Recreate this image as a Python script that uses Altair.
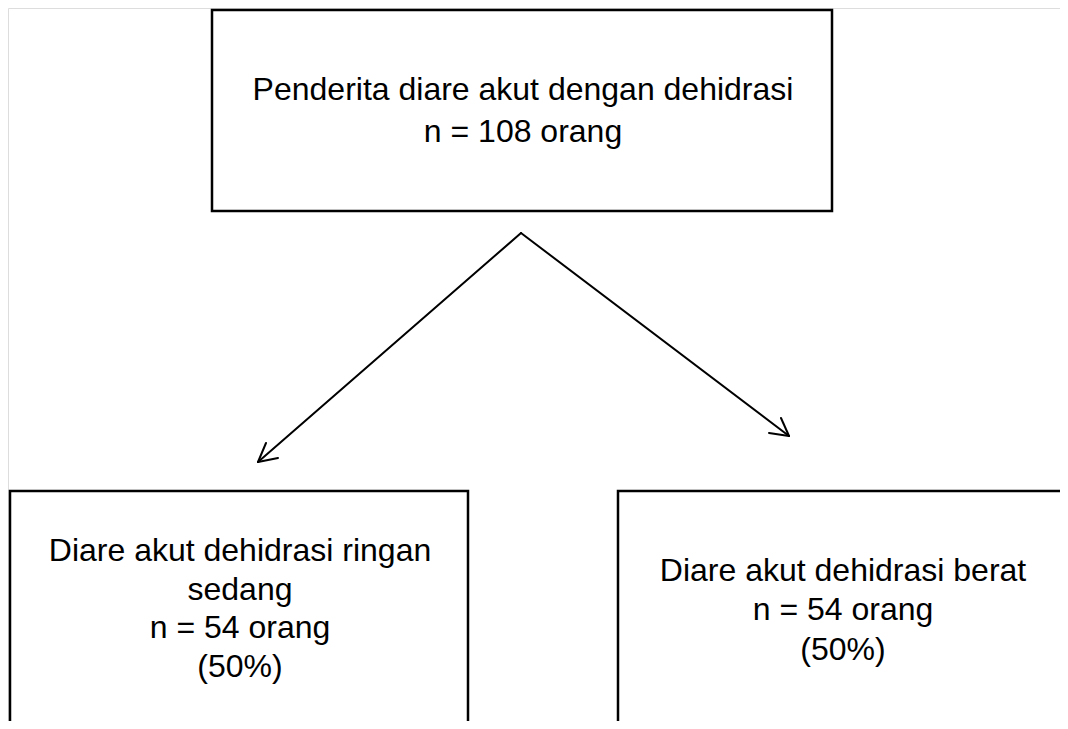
import altair as alt
import pandas as pd

# Node labels (one entry per text line)
top_lines = ["Penderita diare akut dengan dehidrasi", "n = 108 orang"]
left_lines = ["Diare akut dehidrasi ringan", "sedang", "n = 54 orang", "(50%)"]
right_lines = ["Diare akut dehidrasi berat", "n = 54 orang", "(50%)"]

# Layout (diagram coordinates, pixel-like units)
box_x1 = [212, 10, 618]
box_x2 = [832, 468, 1110]
box_y1 = [10, 491, 491]
box_y2 = [211, 770, 770]

top_y = [90, 132]
left_y = [551, 590, 628, 667]
right_y = [571, 610, 650]
top_cx, left_cx, right_cx = 523, 240, 843

apex = (521, 233)
left_tip = (258, 462)
right_tip = (789, 436)
left_arms = [(266, 443), (278, 458)]
right_arms = [(781, 418), (769, 433)]

FONT = "Liberation Sans"
FS = 32

W, H = 1052, 713
xs = alt.Scale(domain=[8, 8 + W], nice=False, zero=False)
ys = alt.Scale(domain=[8 + H, 8], nice=False, zero=False)

boxes = pd.DataFrame({"x": box_x1, "x2": box_x2, "y": box_y1, "y2": box_y2})

segs = []
segs.append((apex[0], apex[1], left_tip[0], left_tip[1]))
segs.append((apex[0], apex[1], right_tip[0], right_tip[1]))
for a in left_arms:
    segs.append((left_tip[0], left_tip[1], a[0], a[1]))
for a in right_arms:
    segs.append((right_tip[0], right_tip[1], a[0], a[1]))
lines = pd.DataFrame(segs, columns=["x", "y", "x2", "y2"])

texts = pd.DataFrame(
    {
        "label": top_lines + left_lines + right_lines,
        "x": [top_cx] * len(top_lines) + [left_cx] * len(left_lines) + [right_cx] * len(right_lines),
        "y": top_y + left_y + right_y,
    }
)

box_layer = alt.Chart(boxes).mark_rect(
    fill="white", stroke="black", strokeWidth=2.5
).encode(
    x=alt.X("x:Q", scale=xs, axis=None),
    x2="x2:Q",
    y=alt.Y("y:Q", scale=ys, axis=None),
    y2="y2:Q",
)

line_layer = alt.Chart(lines).mark_rule(
    color="black", strokeWidth=2, strokeCap="round"
).encode(
    x=alt.X("x:Q", scale=xs, axis=None),
    x2="x2:Q",
    y=alt.Y("y:Q", scale=ys, axis=None),
    y2="y2:Q",
)

text_layer = alt.Chart(texts).mark_text(
    font=FONT, fontSize=FS, color="black", align="center", baseline="middle"
).encode(
    x=alt.X("x:Q", scale=xs, axis=None),
    y=alt.Y("y:Q", scale=ys, axis=None),
    text="label:N",
)

chart = (
    alt.layer(box_layer, line_layer, text_layer)
    .properties(width=W, height=H, padding=0, autosize=alt.AutoSizeParams(type="none"))
    .configure_view(stroke=None, strokeWidth=0)
    .configure(background="white")
)

chart.save("out.html", embed_options={"renderer": "svg", "actions": False})
